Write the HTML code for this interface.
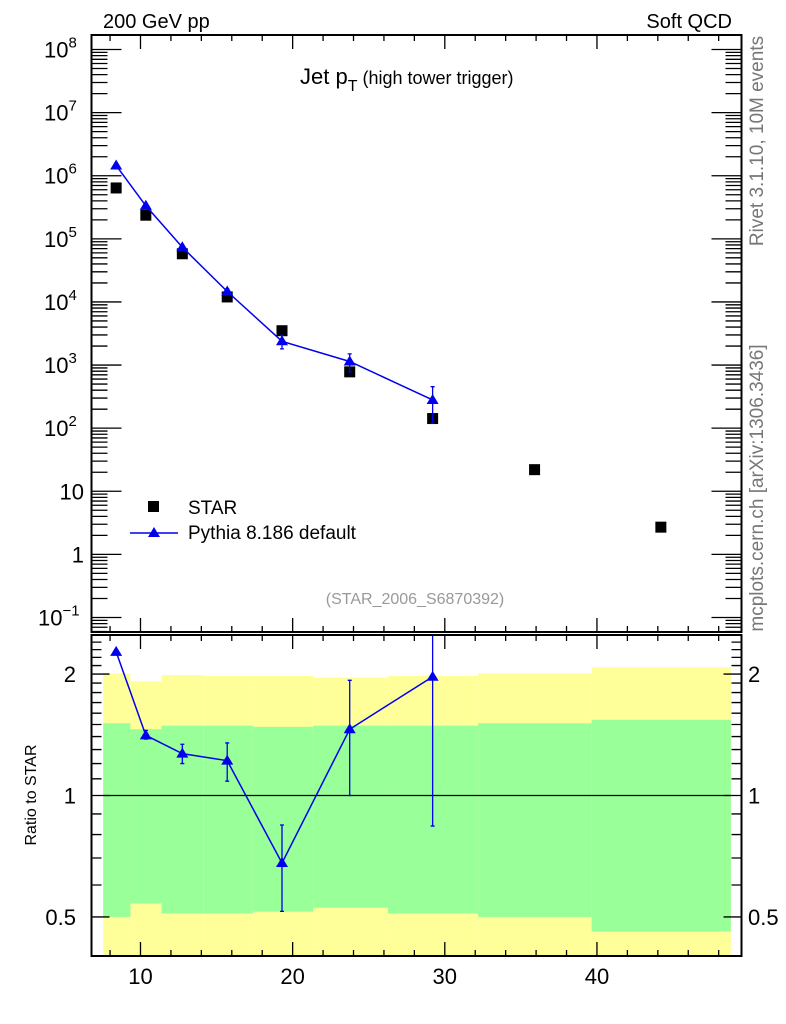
<!DOCTYPE html>
<html><head><meta charset="utf-8"><style>
html,body{margin:0;padding:0;background:#fff;}
svg{display:block;font-family:"Liberation Sans",Arial,sans-serif;}
</style></head><body>
<svg id="chart" width="786" height="1024" viewBox="0 0 786 1024" xmlns="http://www.w3.org/2000/svg">
<text x="103" y="28" font-size="20">200 GeV pp</text>
<text x="732" y="28" font-size="20" text-anchor="end">Soft QCD</text>
<text x="300" y="84" font-size="22">Jet p<tspan font-size="16" dy="7">T</tspan><tspan font-size="18" dy="-7"> (high tower trigger)</tspan></text>
<text transform="translate(763,141) rotate(-90)" font-size="19" fill="#777" text-anchor="middle">Rivet 3.1.10,  10M events</text>
<text transform="translate(763,488) rotate(-90)" font-size="19" fill="#777" text-anchor="middle">mcplots.cern.ch [arXiv:1306.3436]</text>
<text x="415" y="604" font-size="16" fill="#999" text-anchor="middle">(STAR_2006_S6870392)</text>
<text transform="translate(36,795) rotate(-90)" font-size="16" text-anchor="middle">Ratio to STAR</text>
<g id="bands"></g><g id="marks"></g><g id="axes"></g>
<g>
<rect x="148" y="501" width="11" height="11" fill="#000"/>
<text x="188" y="514" font-size="19">STAR</text>
<line x1="130" y1="533" x2="178" y2="533" stroke="#0000ee" stroke-width="1.5"/>
<polygon points="154,527 160,537 148,537" fill="#0000ee"/>
<text x="188" y="539" font-size="19">Pythia 8.186 default</text>
</g>
</svg>
<script>
const starX = [8.4, 10.35, 12.75, 15.7, 19.3, 23.75, 29.2, 35.9, 44.2];
const starY = [6.4e5, 2.37e5, 5.8e4, 1.2e4, 3.5e3, 780, 142, 22, 2.7];
const ratioVals = [2.27, 1.41, 1.27, 1.22, 0.68, 1.46, 1.97];
const ratioLo = [2.27, 1.38, 1.20, 1.085, 0.516, 1.0, 0.84];
const ratioHi = [2.27, 1.45, 1.34, 1.35, 0.845, 1.93, 3.2];
const binEdges = [7.55, 9.34, 11.38, 14.13, 17.39, 21.36, 26.27, 32.19, 39.65, 48.8];
const yellowTop = [2.01, 1.92, 1.99, 1.98, 1.98, 1.96, 1.98, 2.01, 2.08];
const greenTop = [1.51, 1.46, 1.49, 1.49, 1.48, 1.49, 1.49, 1.51, 1.54];
const greenBot = [0.50, 0.54, 0.51, 0.51, 0.515, 0.527, 0.51, 0.50, 0.46];
const yellowBot = [0.3, 0.3, 0.3, 0.3, 0.3, 0.3, 0.3, 0.3, 0.3];
const mainTickLabels = ['10^8','10^7','10^6','10^5','10^4','10^3','10^2','10','1','10^-1'];
const xTickLabels = [10, 20, 30, 40];
const ratioTickLabels = [2, 1, 0.5];

const NS='http://www.w3.org/2000/svg';
const L=91.5,R=741.5,T=35,MB=632,RT=635,RB=956;
const X0=6.78,X1=49.5;
const sx=v=>L+(v-X0)/(X1-X0)*(R-L);
const LYMAX=8.23,LYMIN=-1.23;
const sy=v=>T+(LYMAX-Math.log10(v))/(LYMAX-LYMIN)*(MB-T);
const RMAX=Math.log2(2.5),RMIN=Math.log2(0.4);
const sr=v=>RT+(RMAX-Math.log2(Math.min(Math.max(v,0.4),2.5)))/(RMAX-RMIN)*(RB-RT);
function mk(parent,tag,attrs){const e=document.createElementNS(NS,tag);for(const k in attrs)e.setAttribute(k,attrs[k]);document.getElementById(parent).appendChild(e);return e;}
const blue='#0000ee';
for(let i=0;i<yellowTop.length;i++){
  const x1=sx(binEdges[i]),x2=sx(binEdges[i+1]);
  let e=mk('bands','rect',{x:x1,y:sr(yellowTop[i]),width:x2-x1,height:sr(yellowBot[i])-sr(yellowTop[i]),fill:'#ffff99'});
  
  
  e=mk('bands','rect',{x:x1,y:sr(greenTop[i]),width:x2-x1,height:sr(greenBot[i])-sr(greenTop[i]),fill:'#99ff99'});
  
  
}
let ln=mk('bands','line',{x1:sx(binEdges[0]),x2:sx(binEdges[binEdges.length-1]),y1:sr(1),y2:sr(1),stroke:'#000','stroke-width':1.2});


for(let i=0;i<starX.length;i++){
  const e=mk('marks','rect',{x:sx(starX[i])-5.5,y:sy(starY[i])-5.5,width:11,height:11,fill:'#000'});
  
  
}
let pm=[],pr=[];
for(let i=0;i<ratioVals.length;i++){
  const x=sx(starX[i]);
  pm.push(x+','+sy(starY[i]*ratioVals[i]));
  pr.push(x+','+sr(ratioVals[i]));
}
let pl=mk('marks','polyline',{points:pm.join(' '),fill:'none',stroke:blue,'stroke-width':1.5});


pl=mk('marks','polyline',{points:pr.join(' '),fill:'none',stroke:blue,'stroke-width':1.5});


function tri(x,y,name){const e=mk('marks','polygon',{points:`${x},${y-6} ${x+6},${y+4} ${x-6},${y+4}`,fill:blue});
  
  }
function err(x,y1,y2,name){if(Math.abs(y2-y1)<2)return;
  const e=mk('marks','path',{d:`M${x},${y1}V${y2}M${x-2},${y1}H${x+2}M${x-2},${y2}H${x+2}`,stroke:blue,'stroke-width':1.3,fill:'none'});
  
  }
for(let i=0;i<ratioVals.length;i++){
  const x=sx(starX[i]);
  err(x,sy(starY[i]*ratioHi[i]),sy(starY[i]*ratioLo[i]),'pythia-error-bar');
  tri(x,sy(starY[i]*ratioVals[i]),'pythia-point');
  err(x,sr(ratioHi[i]),sr(ratioLo[i]),'pythia-ratio-error-bar');
  tri(x,sr(ratioVals[i]),'pythia-ratio-point');
}
let fr=mk('axes','rect',{x:L,y:T,width:R-L,height:MB-T,fill:'none',stroke:'#000','stroke-width':2});


fr=mk('axes','rect',{x:L,y:RT,width:R-L,height:RB-RT,fill:'none',stroke:'#000','stroke-width':2});


let d='';
for(let v=8;v<=48;v+=2){const x=sx(v);const major=v%10===0;const len=major?14:6;
  d+=`M${x},${T}v${len}M${x},${MB}v${-len}M${x},${RT}v${len}M${x},${RB}v${-len}`;}
for(let dec=-2;dec<=8;dec++){for(let m=1;m<10;m++){const v=m*Math.pow(10,dec);const y=sy(v);if(y<T||y>MB)continue;const len=m===1?30:16;
  d+=`M${L},${y}h${len}M${R},${y}h${-len}`;}}
const rt=[0.4,0.5,0.6,0.7,0.8,0.9,1,1.1,1.2,1.3,1.4,1.5,1.6,1.7,1.8,1.9,2,2.1,2.2,2.3,2.4,2.5];
rt.forEach(v=>{const y=sr(v);const major=(v===0.5||v===1||v===2);const len=major?18:10;d+=`M${L},${y}h${len}M${R},${y}h${-len}`;});
let tk=mk('axes','path',{d:d,stroke:'#000','stroke-width':1.3,fill:'none'});


mainTickLabels.forEach(lbl=>{
  let v;const parts=lbl.split('^');
  if(parts.length===2)v=Math.pow(10,+parts[1]);else v=+lbl;
  const y=sy(v);
  const t=mk('axes','text',{x:84,y:y+8,'font-size':22,'text-anchor':'end'});
  
  
  if(parts.length===2){t.setAttribute('x',parts[1].length>1?38:44);t.setAttribute('text-anchor','start');t.textContent=parts[0];
    const ts=document.createElementNS(NS,'tspan');ts.setAttribute('font-size',15);ts.setAttribute('dy',-10);ts.textContent=parts[1].replace('-','\u2212');t.appendChild(ts);}
  else t.textContent=lbl;
});
xTickLabels.forEach(v=>{const t=mk('axes','text',{x:sx(v),y:984,'font-size':22,'text-anchor':'middle'});
  
  
  t.textContent=v;});
ratioTickLabels.forEach(v=>{const y=sr(v)+8;
  let t=mk('axes','text',{x:76,y:y,'font-size':22,'text-anchor':'end'});
  
  
  t.textContent=v;
  t=mk('axes','text',{x:748,y:y,'font-size':22});
  
  
  t.textContent=v;});
</script>
</body></html>
